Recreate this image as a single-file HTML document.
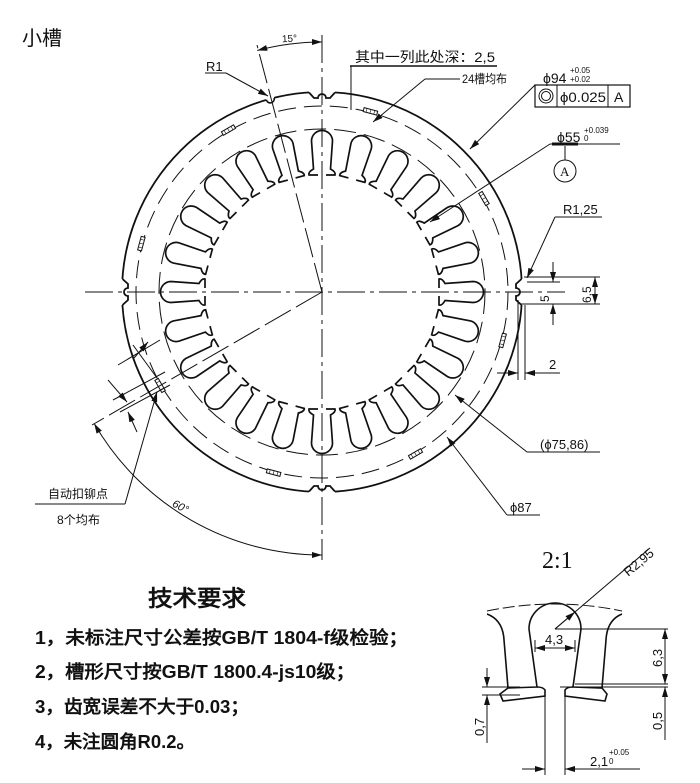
<!DOCTYPE html>
<html><head><meta charset="utf-8"><style>
html,body{margin:0;padding:0;background:#fff;}
svg{display:block;}
text{font-family:"Liberation Sans","WenQuanYi Zen Hei",sans-serif;fill:#111;}
.cj{font-family:"Liberation Serif","Noto Serif CJK SC",serif;}
</style></head><body>
<svg width="700" height="783" viewBox="0 0 700 783" xmlns="http://www.w3.org/2000/svg">
<defs>
<marker id="a" viewBox="0 0 10 6" refX="10" refY="3" markerWidth="10" markerHeight="6" orient="auto-start-reverse" markerUnits="userSpaceOnUse"><path d="M0,0 L10,3 L0,6 Z" fill="#111"/></marker>
<g id="slot"><path d="M-4,-117 L-13,-117 Q-14,-120 -8.5,-123 L-10.5,-151 A10.5 10.5 0 0 1 10.5,-151 L8.5,-123 Q14,-120 13,-117 L4,-117" fill="none" stroke="#111" stroke-width="1.7"/></g>
<g id="notch"><rect x="-13" y="-204" width="26" height="8" fill="#fff"/><path d="M-13,-199.5 L-8,-194 L-4,-194 A4 4 0 0 1 4,-194 L8,-194 L13,-199.5" fill="none" stroke="#111" stroke-width="1.8"/></g>
<g id="riv"><rect x="-7" y="-189" width="14" height="4" fill="#fff" stroke="#111" stroke-width="1"/><path d="M-4,-189 L-4,-185 M0,-189 L0,-185 M4,-189 L4,-185" stroke="#111" stroke-width="0.6"/></g>
</defs>

<text x="22" y="45" font-size="20" style="font-family:'Noto Sans CJK SC',sans-serif">小槽</text>

<g transform="translate(322,292)">
<circle r="200" fill="none" stroke="#111" stroke-width="1.8"/>
<use href="#notch"/><use href="#notch" transform="rotate(90)"/><use href="#notch" transform="rotate(180)"/><use href="#notch" transform="rotate(270)"/>
<g transform="rotate(-15)"><rect x="-4" y="-203" width="8" height="6" fill="#fff"/><path d="M-4,-199.9 A3.5 3.5 0 0 0 4,-199.9" fill="none" stroke="#111" stroke-width="1.6"/></g>
<circle r="186" fill="none" stroke="#111" stroke-width="1" stroke-dasharray="18 8"/>
<circle r="163" fill="none" stroke="#111" stroke-width="1" stroke-dasharray="22 8"/>
<use href="#slot"/><use href="#slot" transform="rotate(15)"/><use href="#slot" transform="rotate(30)"/><use href="#slot" transform="rotate(45)"/><use href="#slot" transform="rotate(60)"/><use href="#slot" transform="rotate(75)"/><use href="#slot" transform="rotate(90)"/><use href="#slot" transform="rotate(105)"/><use href="#slot" transform="rotate(120)"/><use href="#slot" transform="rotate(135)"/><use href="#slot" transform="rotate(150)"/><use href="#slot" transform="rotate(165)"/><use href="#slot" transform="rotate(180)"/><use href="#slot" transform="rotate(195)"/><use href="#slot" transform="rotate(210)"/><use href="#slot" transform="rotate(225)"/><use href="#slot" transform="rotate(240)"/><use href="#slot" transform="rotate(255)"/><use href="#slot" transform="rotate(270)"/><use href="#slot" transform="rotate(285)"/><use href="#slot" transform="rotate(300)"/><use href="#slot" transform="rotate(315)"/><use href="#slot" transform="rotate(330)"/><use href="#slot" transform="rotate(345)"/>
<use href="#riv" transform="rotate(15)"/><use href="#riv" transform="rotate(60)"/><use href="#riv" transform="rotate(105)"/><use href="#riv" transform="rotate(150)"/><use href="#riv" transform="rotate(195)"/><use href="#riv" transform="rotate(240)"/><use href="#riv" transform="rotate(285)"/><use href="#riv" transform="rotate(330)"/>
</g>

<g stroke="#111" stroke-width="1" fill="none">
<line x1="85" y1="292" x2="565" y2="292" stroke-dasharray="28 5 4 5"/>
<line x1="322" y1="35" x2="322" y2="560" stroke-dasharray="28 5 4 5"/>
<line x1="322" y1="292" x2="257" y2="45" stroke-dasharray="30 6"/>
<line x1="322" y1="292" x2="92" y2="425" stroke-dasharray="30 6"/>
<path d="M257.3,50.5 A250 250 0 0 1 322,42" marker-start="url(#a)" marker-end="url(#a)"/>
<path d="M94.2,423.5 A263 263 0 0 0 322,555" marker-start="url(#a)" marker-end="url(#a)"/>
<line x1="205" y1="73" x2="226" y2="73"/><line x1="226" y1="73" x2="268" y2="96" marker-end="url(#a)"/>
<line x1="350" y1="66" x2="497" y2="66" stroke-width="1.4"/>
<line x1="351" y1="66" x2="351" y2="110"/>
<line x1="425" y1="79" x2="460" y2="79"/><line x1="425" y1="79" x2="373" y2="122" marker-end="url(#a)"/>
<line x1="535" y1="85" x2="470" y2="149" marker-end="url(#a)"/>
<rect x="535" y="85" width="95" height="22" stroke-width="1.2"/>
<line x1="557" y1="85" x2="557" y2="107"/><line x1="608" y1="85" x2="608" y2="107"/>
<circle cx="546" cy="96" r="7"/><circle cx="546" cy="96" r="4.5"/>
<line x1="550" y1="144" x2="620" y2="144"/><line x1="552" y1="144" x2="578" y2="144" stroke-width="3"/>
<line x1="550" y1="144" x2="430" y2="222" marker-end="url(#a)"/>
<line x1="565" y1="146" x2="565" y2="160"/><circle cx="565" cy="171" r="11"/>
<line x1="555" y1="217" x2="602" y2="217"/><line x1="555" y1="217" x2="527" y2="278" marker-end="url(#a)"/>
<line x1="524" y1="277" x2="600" y2="277"/><line x1="520" y1="304" x2="600" y2="304"/>
<line x1="527" y1="282" x2="560" y2="282"/>
<line x1="595" y1="277" x2="595" y2="304" marker-start="url(#a)" marker-end="url(#a)"/>
<line x1="553" y1="262" x2="553" y2="282" marker-end="url(#a)"/><line x1="553" y1="325" x2="553" y2="304" marker-end="url(#a)"/>
<line x1="518" y1="300" x2="518" y2="380"/><line x1="525" y1="305" x2="525" y2="380"/>
<line x1="497" y1="373" x2="518" y2="373" marker-end="url(#a)"/><line x1="560" y1="373" x2="525" y2="373" marker-end="url(#a)"/>
<line x1="527" y1="452" x2="600" y2="452"/><line x1="527" y1="452" x2="455" y2="395" marker-end="url(#a)"/>
<line x1="507" y1="515" x2="540" y2="515"/><line x1="507" y1="515" x2="447" y2="437" marker-end="url(#a)"/>
<line x1="35" y1="504" x2="125" y2="504"/><line x1="125" y1="504" x2="157" y2="392" marker-end="url(#a)"/>
<line x1="118" y1="365" x2="160" y2="340"/><line x1="134" y1="358" x2="148" y2="342" marker-end="url(#a)"/>
<line x1="113" y1="400" x2="165" y2="372"/><line x1="120" y1="412" x2="170" y2="385"/>
<line x1="108" y1="380" x2="127" y2="402" marker-end="url(#a)"/><line x1="137" y1="432" x2="128" y2="412" marker-end="url(#a)"/>
<line x1="133" y1="345" x2="157" y2="378"/>
</g>

<g font-size="12">
<text x="282" y="42" font-size="10" transform="rotate(-3 287 40)">15°</text>
<text x="206" y="71" font-size="13">R1</text>
<text x="355" y="62" font-size="14" textLength="140" lengthAdjust="spacingAndGlyphs">其中一列此处深：2,5</text>
<text x="462" y="83" font-size="12" textLength="45" lengthAdjust="spacingAndGlyphs">24槽均布</text>
<text x="543" y="83" font-size="14">ϕ94</text>
<text x="570" y="73" font-size="8">+0.05</text><text x="570" y="82" font-size="8">+0.02</text>
<text x="560" y="102" font-size="14" textLength="46" lengthAdjust="spacingAndGlyphs">ϕ0.025</text>
<text x="614" y="102" font-size="14">A</text>
<text x="557" y="142" font-size="14">ϕ55</text>
<text x="584" y="133" font-size="8">+0.039</text><text x="584" y="141" font-size="8">0</text>
<text x="560" y="176" font-size="13" class="cj">A</text>
<text x="563" y="214" font-size="13">R1,25</text>
<text transform="translate(549,302) rotate(-90)" font-size="12">5</text>
<text transform="translate(591,303) rotate(-90)" font-size="12">6,5</text>
<text x="549" y="369" font-size="13">2</text>
<text x="540" y="449" font-size="13">(ϕ75,86)</text>
<text x="510" y="512" font-size="13">ϕ87</text>
<text x="48" y="498" font-size="12" textLength="60" lengthAdjust="spacingAndGlyphs">自动扣铆点</text>
<text x="57" y="524" font-size="12" textLength="43" lengthAdjust="spacingAndGlyphs">8个均布</text>
<text x="172" y="510" font-size="11" font-style="italic" transform="rotate(28 180 507)">60°</text>
</g>

<g style="font-family:'Noto Sans CJK SC','WenQuanYi Zen Hei',sans-serif" font-weight="bold">
<text x="148" y="606" font-size="22" textLength="98" lengthAdjust="spacingAndGlyphs">技术要求</text>
<text x="35" y="644" font-size="18" textLength="373" lengthAdjust="spacingAndGlyphs">1，未标注尺寸公差按GB/T  1804-f级检验；</text>
<text x="35" y="678" font-size="18" textLength="320" lengthAdjust="spacingAndGlyphs">2，槽形尺寸按GB/T  1800.4-js10级；</text>
<text x="35" y="713" font-size="18" textLength="214" lengthAdjust="spacingAndGlyphs">3，齿宽误差不大于0.03；</text>
<text x="35" y="748" font-size="18" textLength="160" lengthAdjust="spacingAndGlyphs">4，未注圆角R0.2。</text>
</g>

<text x="542" y="568" font-size="24" class="cj">2:1</text>
<g stroke="#111" fill="none">
<path d="M487,611 Q555,597 622,611" stroke-width="1" stroke-dasharray="12 4"/>
<path d="M487,614 Q503,620 504,640 L508,688 L537,687 L529,629 A26 26 0 0 1 581,629 L573,687 L602,688 L606,640 Q607,620 622,614" stroke-width="1.6"/>
<path d="M537,687 Q543,687 545,690 L545,696 L503,701 L500,694 L508,688" stroke-width="1.6"/>
<path d="M573,687 Q567,687 565,690 L565,696 L605,701 L607,694 L602,688" stroke-width="1.6"/>
<g stroke-width="1">
<line x1="545" y1="696" x2="545" y2="775"/><line x1="565" y1="696" x2="565" y2="775"/>
<line x1="522" y1="769" x2="545" y2="769" marker-end="url(#a)"/><line x1="640" y1="769" x2="565" y2="769" marker-end="url(#a)"/>
<line x1="555" y1="629" x2="650" y2="548"/><line x1="555" y1="629" x2="575" y2="612" marker-end="url(#a)"/>
<line x1="555" y1="629" x2="668" y2="629"/><line x1="575" y1="684" x2="668" y2="684"/><line x1="560" y1="687" x2="668" y2="687"/>
<line x1="665" y1="629" x2="665" y2="684" marker-start="url(#a)" marker-end="url(#a)"/>
<line x1="665" y1="740" x2="665" y2="687" marker-end="url(#a)"/>
<line x1="535" y1="640" x2="535" y2="652"/><line x1="575" y1="640" x2="575" y2="652"/>
<line x1="535" y1="648" x2="575" y2="648" marker-start="url(#a)" marker-end="url(#a)"/>
<line x1="482" y1="687" x2="520" y2="687"/><line x1="482" y1="695" x2="520" y2="695"/>
<line x1="487" y1="668" x2="487" y2="687" marker-end="url(#a)"/><line x1="487" y1="743" x2="487" y2="695" marker-end="url(#a)"/>
</g></g>
<g font-size="13">
<text x="621" y="573" transform="rotate(-40 630 565)">R2,95</text>
<text x="545" y="644">4,3</text>
<text transform="translate(662,667) rotate(-90)">6,3</text>
<text transform="translate(662,730) rotate(-90)">0,5</text>
<text transform="translate(484,736) rotate(-90)">0,7</text>
<text x="590" y="766">2,1</text>
<text x="609" y="755" font-size="8">+0.05</text><text x="609" y="764" font-size="8">0</text>
</g>
</svg>
</body></html>
